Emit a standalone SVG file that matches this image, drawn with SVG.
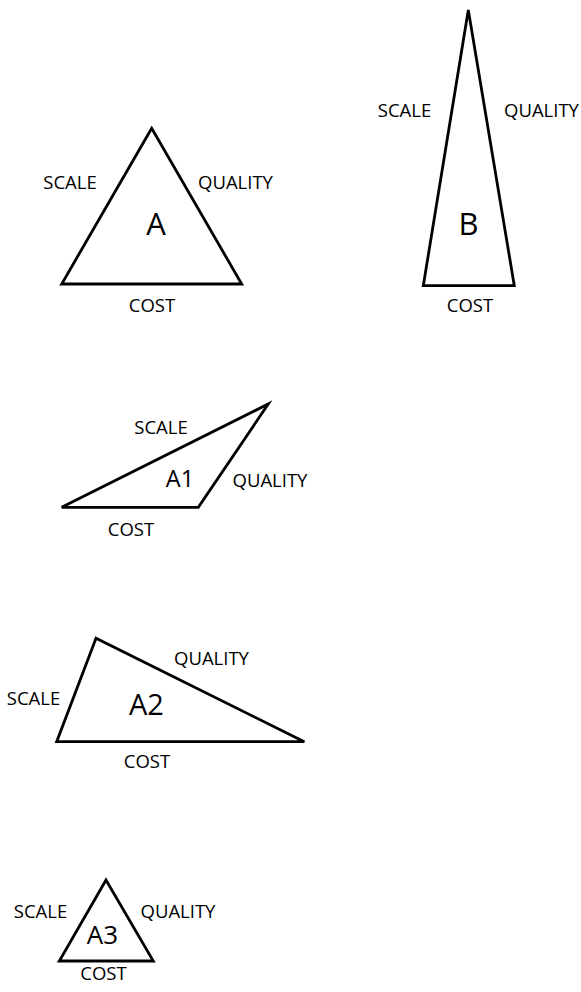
<svg xmlns="http://www.w3.org/2000/svg" width="581" height="992" viewBox="0 0 581 992">
<style>
.tri{fill:none;stroke:#000;stroke-width:2.8;stroke-linejoin:miter}
.lbl{font-family:"Open Sans","DejaVu Sans",sans-serif;font-size:18.5px;fill:#000;text-anchor:middle}
.big{font-family:"Open Sans","DejaVu Sans",sans-serif;fill:#000;text-anchor:middle}
</style>
<rect width="581" height="992" fill="#fff"/>
<g id="A">
<polygon class="tri" points="151.7,128.3 61.7,284 241.7,284"/>
<text class="lbl" x="70" y="189">SCALE</text>
<text class="lbl" x="235.5" y="189">QUALITY</text>
<text class="big" x="156" y="234.5" font-size="31">A</text>
<text class="lbl" x="152" y="311.5">COST</text>
</g>
<g id="B">
<polygon class="tri" points="468.3,10 423.3,285.7 514.3,285.7"/>
<text class="lbl" x="404.5" y="116.5">SCALE</text>
<text class="lbl" x="541.5" y="116.5">QUALITY</text>
<text class="big" x="468.5" y="234.5" font-size="31">B</text>
<text class="lbl" x="470" y="311.5">COST</text>
</g>
<g id="A1">
<polygon class="tri" points="61.7,507.3 198.3,507.3 268.3,404"/>
<text class="lbl" x="161" y="433.5">SCALE</text>
<text class="lbl" x="270" y="486.5">QUALITY</text>
<text class="big" x="180" y="486.5" font-size="23.5">A1</text>
<text class="lbl" x="131" y="536">COST</text>
</g>
<g id="A2">
<polygon class="tri" points="96,638.3 56.7,741.7 304.3,741.7"/>
<text class="lbl" x="211.5" y="665">QUALITY</text>
<text class="lbl" x="33.5" y="705">SCALE</text>
<text class="big" x="146.5" y="715" font-size="29">A2</text>
<text class="lbl" x="147" y="767.5">COST</text>
</g>
<g id="A3">
<polygon class="tri" points="106,880 59.3,961 153.3,961"/>
<text class="lbl" x="40.5" y="917.5">SCALE</text>
<text class="lbl" x="178" y="917.5">QUALITY</text>
<text class="big" x="102.5" y="944" font-size="26">A3</text>
<text class="lbl" x="103.5" y="979.5">COST</text>
</g>
<g id="connectors"></g>
</svg>
